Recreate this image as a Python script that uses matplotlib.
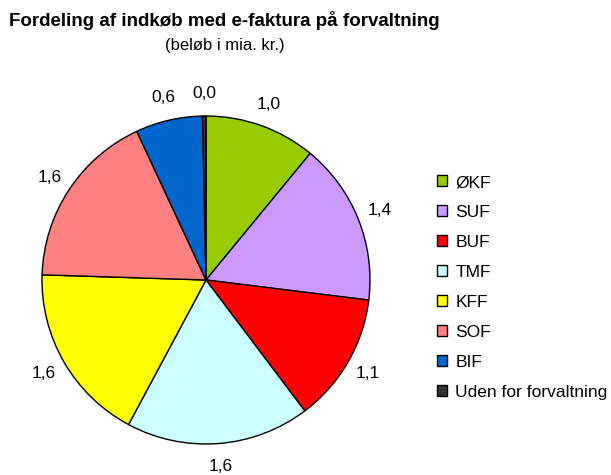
import matplotlib.pyplot as plt
from matplotlib.patches import Patch

plt.rcParams['font.family'] = ['Liberation Sans', 'DejaVu Sans']

categories = ['ØKF', 'SUF', 'BUF', 'TMF', 'KFF', 'SOF', 'BIF', 'Uden for forvaltning']
values = [0.98, 1.43, 1.14, 1.62, 1.58, 1.57, 0.59, 0.03]
colors = ['#99CC00', '#CC99FF', '#FF0000', '#CCFFFF', '#FFFF00', '#FF8080', '#0066CC', '#333333']

W, H = 611, 475
fig = plt.figure(figsize=(W / 100, H / 100), dpi=100)

# pie centre (206, 280) px, radius 164 px
cx, cy, r = 206, 280, 164
ax = fig.add_axes([(cx - r) / W, (H - cy - r) / H, 2 * r / W, 2 * r / H])
labels = [f"{v:.1f}".replace('.', ',') for v in values]
wedges, texts = ax.pie(values, colors=colors, startangle=90, counterclock=False,
                       labels=labels, labeldistance=1.14,
                       wedgeprops=dict(edgecolor='black', linewidth=1.0),
                       textprops=dict(fontsize=12.5))
for t in texts:
    t.set_ha('center')
    t.set_va('center')
ax.set_xlim(-1, 1)
ax.set_ylim(-1, 1)
ax.set_aspect('equal')
ax.axis('off')

fig.text(9 / W, 1 - 26 / H, 'Fordeling af indkøb med e-faktura på forvaltning',
         fontsize=13.5, fontweight='bold', ha='left', va='baseline')
fig.text(225 / W, 1 - 50 / H, '(beløb i mia. kr.)', fontsize=12, ha='center', va='baseline')

handles = [Patch(facecolor=c, edgecolor='black', linewidth=1.0) for c in colors]
fig.legend(handles, categories, loc='upper left', bbox_to_anchor=(437 / W, 1 - 175 / H),
           frameon=False, fontsize=12.5, handlelength=0.6, handleheight=0.6,
           handletextpad=0.45, labelspacing=0.86, borderaxespad=0, borderpad=0)

fig.savefig('out.png', dpi=100)
